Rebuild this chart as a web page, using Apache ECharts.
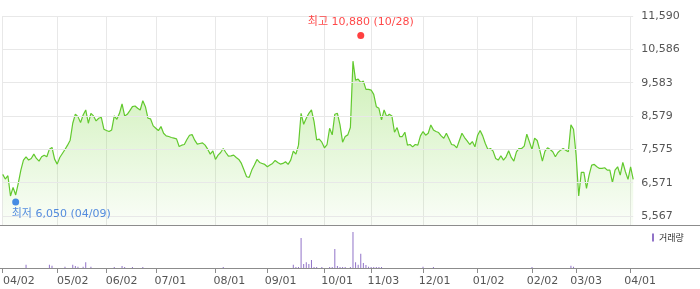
<!DOCTYPE html>
<html><head><meta charset="utf-8">
<script src="https://cdn.jsdelivr.net/npm/echarts@6/dist/echarts.min.js"></script>
<style>html,body{margin:0;padding:0;background:#fff}#c{width:700px;height:289px}</style>
</head><body><div id="c"></div>
<script>
// Trading days (KRX) shown on the chart
const dates = [
 '2025-04-02','2025-04-03','2025-04-04','2025-04-07','2025-04-08','2025-04-09','2025-04-10','2025-04-11','2025-04-14','2025-04-15','2025-04-16','2025-04-17','2025-04-18','2025-04-21','2025-04-22','2025-04-23','2025-04-24','2025-04-25','2025-04-28','2025-04-29','2025-04-30',
 '2025-05-02','2025-05-07','2025-05-08','2025-05-09','2025-05-12','2025-05-13','2025-05-14','2025-05-15','2025-05-16','2025-05-19','2025-05-20','2025-05-21','2025-05-22','2025-05-23','2025-05-26','2025-05-27','2025-05-28','2025-05-29','2025-05-30',
 '2025-06-02','2025-06-04','2025-06-05','2025-06-09','2025-06-10','2025-06-11','2025-06-12','2025-06-13','2025-06-16','2025-06-17','2025-06-18','2025-06-19','2025-06-20','2025-06-23','2025-06-24','2025-06-25','2025-06-26','2025-06-27','2025-06-30',
 '2025-07-01','2025-07-02','2025-07-03','2025-07-04','2025-07-07','2025-07-08','2025-07-09','2025-07-10','2025-07-11','2025-07-14','2025-07-15','2025-07-16','2025-07-17','2025-07-18','2025-07-21','2025-07-22','2025-07-23','2025-07-24','2025-07-25','2025-07-28','2025-07-29','2025-07-30','2025-07-31',
 '2025-08-01','2025-08-04','2025-08-05','2025-08-06','2025-08-07','2025-08-08','2025-08-11','2025-08-12','2025-08-13','2025-08-14','2025-08-18','2025-08-19','2025-08-20','2025-08-21','2025-08-22','2025-08-25','2025-08-26','2025-08-27','2025-08-28','2025-08-29',
 '2025-09-01','2025-09-02','2025-09-03','2025-09-04','2025-09-05','2025-09-08','2025-09-09','2025-09-10','2025-09-11','2025-09-12','2025-09-15','2025-09-16','2025-09-17','2025-09-18','2025-09-19','2025-09-22','2025-09-23','2025-09-24','2025-09-25','2025-09-26','2025-09-29','2025-09-30',
 '2025-10-01','2025-10-02','2025-10-10','2025-10-13','2025-10-14','2025-10-15','2025-10-16','2025-10-17','2025-10-20','2025-10-21','2025-10-22','2025-10-23','2025-10-24','2025-10-27','2025-10-28','2025-10-29','2025-10-30','2025-10-31',
 '2025-11-03','2025-11-04','2025-11-05','2025-11-06','2025-11-07','2025-11-10','2025-11-11','2025-11-12','2025-11-13','2025-11-14','2025-11-17','2025-11-18','2025-11-19','2025-11-20','2025-11-21','2025-11-24','2025-11-25','2025-11-26','2025-11-27','2025-11-28',
 '2025-12-01','2025-12-02','2025-12-03','2025-12-04','2025-12-05','2025-12-08','2025-12-09','2025-12-10','2025-12-11','2025-12-12','2025-12-15','2025-12-16','2025-12-17','2025-12-18','2025-12-19','2025-12-22','2025-12-23','2025-12-24','2025-12-26','2025-12-29','2025-12-30',
 '2026-01-02','2026-01-05','2026-01-06','2026-01-07','2026-01-08','2026-01-09','2026-01-12','2026-01-13','2026-01-14','2026-01-15','2026-01-16','2026-01-19','2026-01-20','2026-01-21','2026-01-22','2026-01-23','2026-01-26','2026-01-27','2026-01-28','2026-01-29','2026-01-30',
 '2026-02-02','2026-02-03','2026-02-04','2026-02-05','2026-02-06','2026-02-09','2026-02-10','2026-02-11','2026-02-12','2026-02-13','2026-02-19','2026-02-20','2026-02-23','2026-02-24','2026-02-25','2026-02-26','2026-02-27',
 '2026-03-03','2026-03-04','2026-03-05','2026-03-06','2026-03-09','2026-03-10','2026-03-11','2026-03-12','2026-03-13','2026-03-16','2026-03-17','2026-03-18','2026-03-19','2026-03-20','2026-03-23','2026-03-24','2026-03-25','2026-03-26','2026-03-27','2026-03-30','2026-03-31',
 '2026-04-01','2026-04-02'
];

// Closing prices
const closes = [
 6820,6680,6780,6170,6430,6200,6550,6950,7250,7350,
 7250,7300,7430,7300,7220,7350,7400,7350,7580,7630,
 7280,7130,7330,7450,7570,7700,7850,8360,8630,8560,
 8380,8610,8760,8360,8660,8580,8430,8510,8540,8180,
 8140,8110,8160,8580,8480,8660,8940,8580,8630,8740,
 8860,8880,8810,8760,9040,8860,8510,8490,8280,8210,
 8140,8260,8060,7980,7960,7930,7910,7890,7660,7700,
 7720,7870,8000,8020,7850,7730,7750,7770,7700,7580,
 7430,7530,7270,7400,7480,7600,7480,7370,7380,7400,
 7330,7270,7150,6950,6750,6730,6950,7100,7270,7180,
 7150,7120,7050,7100,7150,7240,7180,7130,7150,7200,
 7120,7250,7520,7430,7700,8660,8330,8510,8660,8760,
 8410,7860,7880,7790,7620,7720,8210,8010,8630,8660,
 8310,7790,7960,8010,8230,10230,9660,9690,9590,9630,
 9380,9380,9360,9230,8860,8810,8460,8760,8560,8630,
 8580,8090,8230,7960,7960,8090,7700,7720,7650,7720,
 7700,7980,8110,8000,8060,8310,8160,8110,8080,7980,
 7910,8060,7890,7720,7700,7620,7840,8060,7930,7830,
 7720,7810,7650,7990,8140,7980,7750,7570,7600,7520,
 7300,7250,7380,7250,7350,7530,7330,7220,7500,7600,
 7600,7670,8030,7800,7570,7910,7840,7550,7220,7520,
 7620,7570,7500,7350,7480,7550,7600,7550,7500,8310,
 8180,7400,6170,6880,6880,6400,6800,7100,7120,7050,
 7000,7000,7020,6950,6950,6570,6950,7050,6800,7180,
 6900,6670,7050,6670
];

// Volume (relative units)
const volumes = [
 0,0,0,0,0,0,0,0,0,330,
 0,0,0,0,0,0,0,0,330,230,
 0,0,0,0,130,0,0,330,200,130,
 0,130,570,0,130,0,0,0,0,0,
 0,0,0,100,0,0,200,100,0,0,
 100,0,0,0,100,0,0,0,0,0,
 0,0,0,0,0,0,0,0,0,0,
 0,0,0,0,0,0,0,0,0,0,
 0,0,0,0,0,100,0,0,0,0,
 0,0,0,0,0,0,0,0,0,0,
 0,0,0,0,0,0,0,0,0,0,
 0,0,330,100,100,3000,400,570,400,800,
 100,100,0,100,0,0,100,100,1900,200,
 100,100,100,0,100,3600,570,330,1430,500,
 300,130,100,100,100,100,100,0,0,0,
 0,0,0,0,0,0,0,0,0,0,
 0,0,130,0,0,0,100,0,0,0,
 0,0,0,0,0,0,0,0,0,0,
 0,0,0,0,0,0,0,0,0,0,
 0,0,0,0,0,0,0,0,0,0,
 0,0,0,0,100,0,0,0,0,0,
 0,0,0,0,0,0,0,0,0,230,
 130,0,0,0,0,0,0,0,0,0,
 0,0,0,0,0,0,0,0,0,0,
 0,0,0,0
];

const tickDates = ['2025-04-02','2025-05-02','2025-06-02','2025-07-01','2025-08-01','2025-09-01','2025-10-01','2025-11-03','2025-12-01','2026-01-02','2026-02-02','2026-03-03','2026-04-01'];
const yTickValues = [5567, 6571, 7575, 8579, 9583, 10586, 11590];
const yTickLabels = ['5,567','6,571','7,575','8,579','9,583','10,586','11,590'];
const highDate = '2025-10-28', highValue = 10880;
const lowDate = '2025-04-09', lowValue = 6050;

const FONT = "'DejaVu Sans', 'Noto Sans CJK KR', sans-serif";
const fmt = v => v.toLocaleString('en-US');
const md = d => d.slice(5).replace('-', '/');
const isTick = (i, v) => tickDates.indexOf(v) >= 0;

const chart = echarts.init(document.getElementById('c'), null, {renderer: 'canvas'});
chart.setOption({
  animation: false,
  backgroundColor: '#fff',
  legend: {
    data: ['거래량'], left: 652, top: 233, padding: 0, icon: 'rect',
    itemWidth: 2, itemHeight: 8, selectedMode: false,
    textStyle: {fontSize: 9, color: '#333', fontFamily: "'Noto Sans CJK KR', sans-serif"}
  },
  grid: [
    {left: 2.7, right: 66.8, top: 16, height: 209},
    {left: 2.7, right: 66.8, top: 228, height: 40},
    {left: 0, right: 0, top: 224, height: 1},
    {left: 0, right: 0, top: 267, height: 1},
    {left: 12.1, right: 57.4, top: 228, height: 40}
  ],
  xAxis: [
    {type: 'category', gridIndex: 0, data: dates, boundaryGap: false,
     axisLine: {show: false}, axisTick: {show: false}, axisLabel: {show: false},
     splitLine: {show: true, interval: isTick, lineStyle: {color: '#e8e8e8', width: 1}}},
    {type: 'category', gridIndex: 1, data: dates, boundaryGap: false,
     axisLine: {show: false},
     axisTick: {show: true, interval: isTick, length: 5, lineStyle: {color: '#8c8c8c'}},
     axisLabel: {show: false},
     splitLine: {show: false}},
    {type: 'value', gridIndex: 2, min: 0, max: 1, axisLine: {show: true, onZero: false, lineStyle: {color: '#8c8c8c', width: 1}},
     axisTick: {show: false}, axisLabel: {show: false}, splitLine: {show: false}},
    {type: 'value', gridIndex: 3, min: 0, max: 1, axisLine: {show: true, onZero: false, lineStyle: {color: '#8c8c8c', width: 1}},
     axisTick: {show: false}, axisLabel: {show: false}, splitLine: {show: false}},
    {type: 'category', gridIndex: 4, data: dates, boundaryGap: false,
     axisLine: {show: false}, axisTick: {show: false},
     axisLabel: {show: true, interval: isTick, formatter: md, color: '#555', fontSize: 11,
                 fontFamily: FONT, margin: 8},
     splitLine: {show: false}}
  ],
  yAxis: [
    {type: 'value', gridIndex: 0, min: 5296, max: 11590, show: false},
    {type: 'value', gridIndex: 1, min: 0, max: 4000, show: false},
    {type: 'value', gridIndex: 2, show: false},
    {type: 'value', gridIndex: 3, show: false},
    {type: 'value', gridIndex: 4, show: false}
  ],
  series: [
    {
      name: '종가', type: 'line', xAxisIndex: 0, yAxisIndex: 0, data: closes,
      symbol: 'none', silent: true, z: 3,
      lineStyle: {color: '#62c92e', width: 1.2},
      itemStyle: {color: '#62c92e'},
      areaStyle: {color: new echarts.graphic.LinearGradient(0, 0, 0, 1, [
        {offset: 0, color: 'rgba(125,215,65,0.55)'},
        {offset: 1, color: 'rgba(125,215,65,0.05)'}
      ])},
      markLine: {
        silent: true, symbol: ['none', 'none'], animation: false,
        lineStyle: {color: '#e8e8e8', width: 1, type: 'solid'},
        emphasis: {disabled: true},
        label: {show: true, position: 'end', distance: 8, color: '#555', fontSize: 11, fontFamily: FONT,
                formatter: p => yTickLabels[yTickValues.indexOf(p.value)]},
        data: yTickValues.map(v => ({yAxis: v}))
      }
    },
    {
      name: '최고', type: 'scatter', xAxisIndex: 0, yAxisIndex: 0,
      data: [[highDate, highValue]], symbolSize: 7, symbolOffset: [0, -4], silent: true, z: 5,
      itemStyle: {color: '#ff1010'},
      label: {show: true, position: 'top', distance: 4, color: '#ff1a1a', fontSize: 11, fontFamily: FONT,
              formatter: () => '최고 ' + fmt(highValue) + ' (' + md(highDate) + ')'}
    },
    {
      name: '최저', type: 'scatter', xAxisIndex: 0, yAxisIndex: 0,
      data: [[lowDate, lowValue]], symbolSize: 7, symbolOffset: [0, 2], silent: true, z: 5,
      itemStyle: {color: '#1a6fe0'},
      label: {show: true, position: 'bottom', distance: 3, align: 'left', offset: [-4, 0],
              color: '#2a6fd8', fontSize: 11, fontFamily: FONT,
              formatter: () => '최저 ' + fmt(lowValue) + ' (' + md(lowDate) + ')'}
    },
    {
      name: '거래량', type: 'bar', xAxisIndex: 1, yAxisIndex: 1, data: volumes,
      barWidth: 1, silent: true, itemStyle: {color: '#9173c8'}
    }
  ]
});
</script>
</body></html>
